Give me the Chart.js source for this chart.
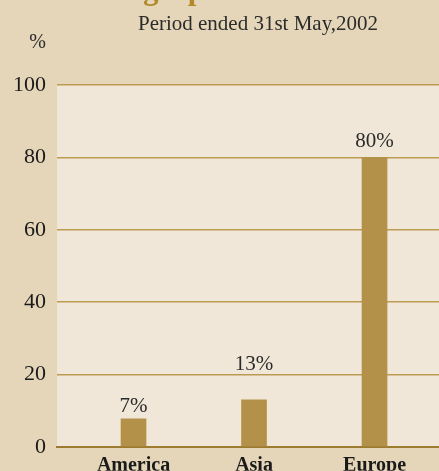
<!DOCTYPE html>
<html>
<head>
<meta charset="utf-8">
<script src="https://cdn.jsdelivr.net/npm/chart.js@4/dist/chart.umd.min.js"></script>
<style>
  html, body { margin: 0; padding: 0; background: #e5d6b9; }
  #wrap { width: 439px; height: 471px; position: relative; }
</style>
</head>
<body>
<div id="wrap"><canvas id="myChart"></canvas></div>
<script>
// chart values
var regions = ['America', 'Asia', 'Europe'];
var shares = [7.7, 13, 80];
var shareLabels = ['7%', '13%', '80%'];
var yTicks = [0, 20, 40, 60, 80, 100];

var serif = '"Liberation Serif", "Times New Roman", serif';

// label lift above each bar top (px), matches the original's uneven placement
var lift = [7, 30, 10];

var decor = {
  id: 'decor',
  beforeDraw: function (chart) {
    var c = chart.ctx, a = chart.chartArea;
    c.save();
    c.fillStyle = '#f1e7d8';
    c.fillRect(a.left, a.top, a.right - a.left, a.bottom - a.top);
    c.restore();
  },
  afterDraw: function (chart) {
    var c = chart.ctx;
    c.save();
    // title, mostly off the top edge
    c.fillStyle = '#b08a2a';
    c.font = 'bold 31px ' + serif;
    c.textAlign = 'center';
    c.textBaseline = 'alphabetic';
    c.fillText('Geographic Distribution', 252, -1);
    c.fillStyle = '#2b2b2b';
    c.font = '21px ' + serif;
    c.fillText('Period ended 31st May,2002', 258, 30);
    c.textAlign = 'right';
    c.font = '20px ' + serif;
    c.fillText('%', 46, 48);
    // value labels
    c.textAlign = 'center';
    c.font = '21px ' + serif;
    var meta = chart.getDatasetMeta(0);
    meta.data.forEach(function (bar, i) {
      c.fillText(shareLabels[i], bar.x, bar.y - lift[i]);
    });
    c.restore();
  }
};

var ctx = document.getElementById('myChart').getContext('2d');
var myChart = new Chart(ctx, {
  type: 'bar',
  data: {
    datasets: [{
      data: shares.map(function (v, i) { return { x: i, y: v }; }),
      backgroundColor: '#b39148',
      barThickness: 25
    }]
  },
  options: {
    responsive: true,
    maintainAspectRatio: false,
    animation: false,
    layout: { padding: { top: 85, left: 0, right: 0, bottom: 0 } },
    plugins: {
      legend: { display: false },
      tooltip: { enabled: false }
    },
    scales: {
      x: {
        type: 'linear',
        offset: false,
        min: -0.635,
        max: 2.535,
        afterBuildTicks: function (s) {
          s.ticks = regions.map(function (r, i) { return { value: i }; });
        },
        grid: { display: false, drawTicks: false },
        border: { display: true, color: '#9c7a2e', width: 2 },
        ticks: {
          autoSkip: false,
          maxRotation: 0,
          padding: 7,
          color: '#1a1a1a',
          font: { family: serif, size: 20, weight: 'bold' },
          callback: function (v) { return regions[v]; }
        },
        afterFit: function (s) { s.height = 24; }
      },
      y: {
        min: 0,
        max: 100,
        afterBuildTicks: function (s) {
          s.ticks = yTicks.map(function (v) { return { value: v }; });
        },
        grid: { color: '#bb9a52', lineWidth: 1.5, drawTicks: false },
        border: { display: false },
        ticks: {
          padding: 11,
          color: '#1a1a1a',
          font: { family: serif, size: 22 }
        },
        afterFit: function (s) { s.width = 57; }
      }
    }
  },
  plugins: [decor]
});
</script>
</body>
</html>
